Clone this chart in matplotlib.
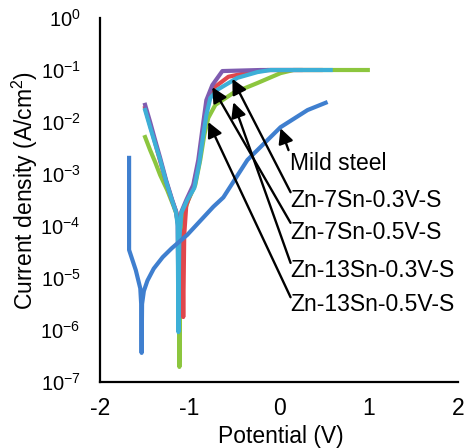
import numpy as np
import matplotlib
matplotlib.use("Agg")
import matplotlib.pyplot as plt

# =====================================================
# Data (potential in V, log10 of current density in A/cm2)
# =====================================================

ms_v = [-1.675, -1.675, -1.60, -1.55, -1.54, -1.535, -1.53, -1.51, -1.47,
        -1.40, -1.30, -1.20, -1.025, -0.734, -0.622, -0.353, 0.017, 0.319,
        0.521]
ms_log = [-2.69, -4.46, -4.85, -5.20, -5.50, -6.44, -5.50, -5.25, -5.05,
          -4.82, -4.60, -4.43, -4.17, -3.63, -3.45, -2.73, -2.10, -1.77,
          -1.63]

# Zn-7Sn-0.3V-S (red)
r_v = [-1.496, -1.44, -1.384, -1.328, -1.261, -1.193, -1.150, -1.126, -1.081,
       -1.070, -1.059, -1.036, -0.958, -0.891, -0.846, -0.790, -0.734, -0.566,
       -0.319, -0.129, 0.465]
r_log = [-1.73, -2.06, -2.40, -2.75, -3.15, -3.52, -3.72, -3.88, -4.25,
         -5.75, -4.17, -3.60, -3.25, -2.73, -2.15, -1.58, -1.35, -1.13,
         -1.04, -1.00, -1.00]

# Zn-7Sn-0.5V-S (green)
g_v = [-1.496, -1.44, -1.384, -1.328, -1.249, -1.182, -1.150, -1.126, -1.115,
       -1.113, -1.104, -1.070, -1.014, -0.936, -0.880, -0.835, -0.790, -0.711,
       -0.510, -0.241, 0.017, 0.162, 0.992]
g_log = [-2.29, -2.54, -2.77, -3.02, -3.31, -3.60, -3.75, -3.98, -4.37,
         -6.71, -4.37, -3.79, -3.50, -3.21, -2.73, -2.25, -1.92, -1.67,
         -1.44, -1.25, -1.06, -1.00, -1.00]

# Zn-13Sn-0.3V-S (purple)
p_v = [-1.496, -1.44, -1.384, -1.328, -1.261, -1.193, -1.150, -1.132, -1.124,
       -1.115, -1.092, -1.036, -0.958, -0.902, -0.857, -0.812, -0.745, -0.633,
       -0.207, 0.241]
p_log = [-1.67, -2.00, -2.35, -2.69, -3.12, -3.50, -3.72, -3.95, -5.42,
         -4.17, -3.73, -3.50, -3.21, -2.73, -2.15, -1.58, -1.29, -1.02,
         -1.00, -1.00]

# Zn-13Sn-0.5V-S (cyan)
c_v = [-1.496, -1.44, -1.384, -1.328, -1.261, -1.193, -1.150, -1.132, -1.124,
       -1.115, -1.092, -1.025, -0.947, -0.891, -0.846, -0.812, -0.768, -0.689,
       -0.465, -0.241, -0.095, 0.577]
c_log = [-1.77, -2.10, -2.42, -2.73, -3.15, -3.52, -3.74, -4.00, -6.04,
         -4.27, -3.75, -3.50, -3.27, -2.79, -2.25, -1.87, -1.54, -1.38,
         -1.15, -1.04, -1.00, -1.00]

labels = ["Mild steel", "Zn-7Sn-0.3V-S", "Zn-7Sn-0.5V-S",
          "Zn-13Sn-0.3V-S", "Zn-13Sn-0.5V-S"]

# label anchor (V, log i) and arrow tip (V, log i)
label_pos = [(0.12, -2.79), (0.12, -3.50), (0.12, -4.13),
             (0.12, -4.86), (0.12, -5.50)]
arrow_tail = [(0.106, -2.54), (0.129, -3.35), (0.129, -3.94),
              (0.129, -4.71), (0.129, -5.37)]
arrow_tip = [(0.017, -2.12), (-0.521, -1.17), (-0.745, -1.33),
             (-0.510, -1.62), (-0.790, -2.00)]

# =====================================================
# Style
# =====================================================

plt.rcParams["font.family"] = ["Liberation Sans", "DejaVu Sans"]
plt.rcParams["mathtext.default"] = "regular"
plt.rcParams["axes.unicode_minus"] = False

FS = 16.5

fig = plt.figure(figsize=(4.66, 4.48), dpi=100)
ax = fig.add_axes([0.2146, 0.1473, 0.7683, 0.8125])

lw = 3.0
ax.plot(r_v, 10 ** np.array(r_log), color="#E0474C", lw=lw, zorder=2)
ax.plot(g_v, 10 ** np.array(g_log), color="#8CC63E", lw=lw, zorder=1)
ax.plot(p_v, 10 ** np.array(p_log), color="#7F5CB0", lw=lw, zorder=3)
ax.plot(c_v, 10 ** np.array(c_log), color="#3DAFD7", lw=lw, zorder=4)
ax.plot(ms_v, 10 ** np.array(ms_log), color="#3F7FCF", lw=lw, zorder=5)

for lab, pos, tail, tip in zip(labels, label_pos, arrow_tail, arrow_tip):
    ax.text(pos[0], 10 ** pos[1], lab, fontsize=FS, va="center", ha="left",
            zorder=7)
    ax.annotate("", xy=(tip[0], 10 ** tip[1]),
                xytext=(tail[0], 10 ** tail[1]),
                arrowprops=dict(arrowstyle="-|>,head_length=0.9,head_width=0.45",
                                color="black", lw=1.7,
                                shrinkA=0, shrinkB=0),
                zorder=6)

# =====================================================
# Axes
# =====================================================

ax.set_yscale("log")
ax.set_xlim(-2, 2)
ax.set_ylim(1e-7, 1)
ax.set_xticks([-2, -1, 0, 1, 2])
ax.set_xticklabels(["-2", "-1", "0", "1", "2"])
yt = [10.0 ** k for k in range(-7, 1)]
ax.set_yticks(yt)
ax.set_yticklabels(["$10^{%d}$" % k for k in range(-7, 1)])
ax.yaxis.set_minor_locator(matplotlib.ticker.NullLocator())
ax.tick_params(axis="x", length=0, labelsize=FS, pad=11)
ax.tick_params(axis="y", length=0, labelsize=14.5, pad=14)

for side in ["top", "right"]:
    ax.spines[side].set_visible(False)
for side in ["left", "bottom"]:
    ax.spines[side].set_linewidth(1.6)
    ax.spines[side].set_color("black")

ax.set_xlabel("Potential (V)", fontsize=FS, va="center")
ax.set_ylabel("Current density (A/cm$^2$)", fontsize=FS, va="center")
ax.xaxis.set_label_coords(0.505, -0.151)
ax.yaxis.set_label_coords(-0.21, 0.527)

fig.savefig("out.png", dpi=100)
